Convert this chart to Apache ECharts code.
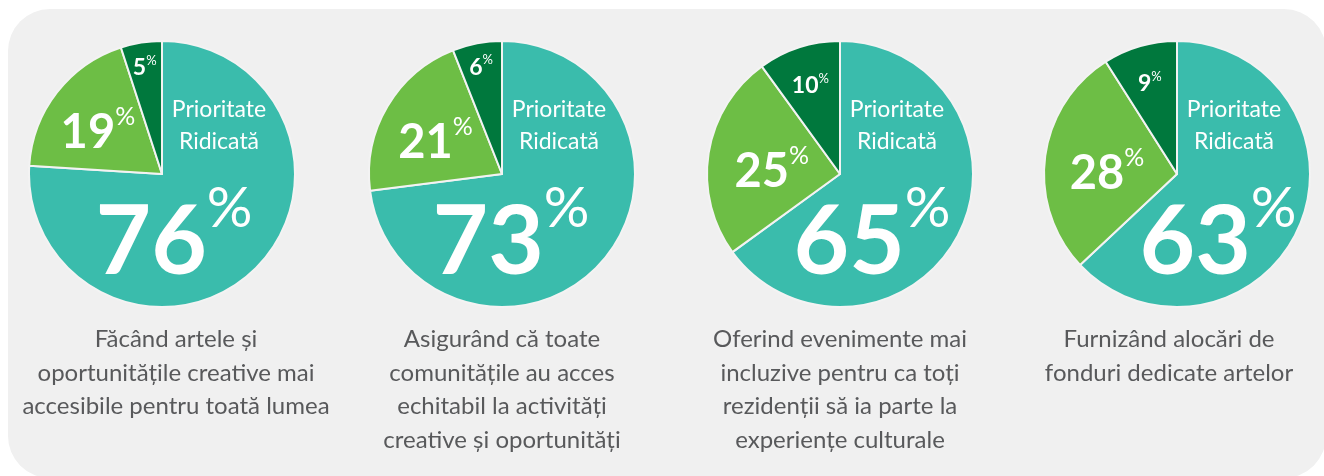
<!DOCTYPE html>
<html>
<head>
<meta charset="utf-8">
<script src="https://cdn.jsdelivr.net/npm/echarts@6/dist/echarts.min.js"></script>
<style>
html,body{margin:0;padding:0;background:#ffffff;}
#chart{width:1324px;height:476px;}
</style>
</head>
<body>
<div id="chart"></div>
<script>
// ---- data ----
const highPriority = [76, 73, 65, 63];
const mediumPriority = [19, 21, 25, 28];
const lowPriority = [5, 6, 10, 9];
const highLabel = 'Prioritate\nRidicată';
const captions = [
  'Făcând artele și\noportunitățile creative mai\naccesibile pentru toată lumea',
  'Asigurând că toate\ncomunitățile au acces\nechitabil la activități\ncreative și oportunități',
  'Oferind evenimente mai\nincluzive pentru ca toți\nrezidenții să ia parte la\nexperiențe culturale',
  'Furnizând alocări de\nfonduri dedicate artelor'
];

// ---- layout / style ----
const centersX = [162, 502, 840, 1177];
const centerY = 174;
const R = 133;
const bigLabelDx = [12, 9, 32, 41];
const midFrac = [0.61, 0.58, 0.52, 0.53];
const lowFrac = [0.83, 0.84, 0.72, 0.73];
const captionDx = [14, 0, 0, -8];
const colors = ['#3abcac', '#6dbe45', '#00783d'];
const FONT = 'Lato, "Open Sans", sans-serif';

const chart = echarts.init(document.getElementById('chart'), null, {renderer: 'canvas'});

const series = [];
const graphics = [{
  type: 'rect', z: -10,
  shape: {x: 8, y: 9, width: 1318, height: 469, r: 42},
  style: {fill: '#f0f0f0'}
}];

function pctText(v, nSize, pSize, ratio) {
  return {
    text: '{n|' + v + '}{p|%}',
    rich: {
      n: {fontSize: nSize, fontWeight: 'bold', fontFamily: FONT, fill: '#fff', color: '#fff', lineHeight: Math.round(nSize * ratio), verticalAlign: 'bottom'},
      p: {fontSize: pSize, fontFamily: FONT, fill: '#fff', color: '#fff', lineHeight: pSize, verticalAlign: 'top'}
    }
  };
}

for (let i = 0; i < highPriority.length; i++) {
  const vals = [highPriority[i], mediumPriority[i], lowPriority[i]];
  const total = vals.reduce((a, b) => a + b, 0);
  const cx = centersX[i];
  series.push({
    type: 'pie',
    center: [cx, centerY],
    radius: R,
    startAngle: 90,
    clockwise: true,
    silent: true,
    animation: false,
    label: {show: false},
    labelLine: {show: false},
    itemStyle: {borderColor: '#f3f3f3', borderWidth: 2},
    data: vals.map((v, k) => ({value: v, name: ['Ridicată', 'Medie', 'Scăzută'][k], itemStyle: {color: colors[k]}}))
  });

  // high priority label
  graphics.push({
    type: 'text', z: 10,
    style: {
      text: highLabel, x: cx + 57, y: 126,
      align: 'center', verticalAlign: 'middle', textAlign: 'center', textVerticalAlign: 'middle',
      font: '23px ' + FONT, fill: '#ffffff', lineHeight: 32
    }
  });
  // big value
  const big = pctText(highPriority[i], 96, 57, 1.16);
  graphics.push({
    type: 'text', z: 10,
    style: Object.assign(big, {
      x: cx + bigLabelDx[i], y: 236,
      align: 'center', verticalAlign: 'middle', textAlign: 'center', textVerticalAlign: 'middle'
    })
  });

  // small slice labels, positioned at slice mid-angles
  let cum = highPriority[i];
  const smalls = [
    {v: mediumPriority[i], frac: midFrac[i], n: 47, p: 25, dy: 6, ratio: 1.1},
    {v: lowPriority[i], frac: lowFrac[i], n: 23, p: 13, dy: 2, ratio: 1.1}
  ];
  smalls.forEach(s => {
    const mid = (cum + s.v / 2) / total * Math.PI * 2;
    cum += s.v;
    const t = pctText(s.v, s.n, s.p, s.ratio);
    graphics.push({
      type: 'text', z: 10,
      style: Object.assign(t, {
        x: cx + s.frac * R * Math.sin(mid),
        y: centerY - s.frac * R * Math.cos(mid) + s.dy,
        align: 'center', verticalAlign: 'middle', textAlign: 'center', textVerticalAlign: 'middle'
      })
    });
  });

  // caption
  graphics.push({
    type: 'text', z: 10,
    style: {
      text: captions[i], x: cx + captionDx[i], y: 323,
      align: 'center', verticalAlign: 'top', textAlign: 'center', textVerticalAlign: 'top',
      font: '24px ' + FONT, fill: '#58595b', lineHeight: 33.5
    }
  });
}

chart.setOption({
  backgroundColor: '#ffffff',
  animation: false,
  series: series,
  graphic: {elements: graphics}
});
</script>
</body>
</html>
